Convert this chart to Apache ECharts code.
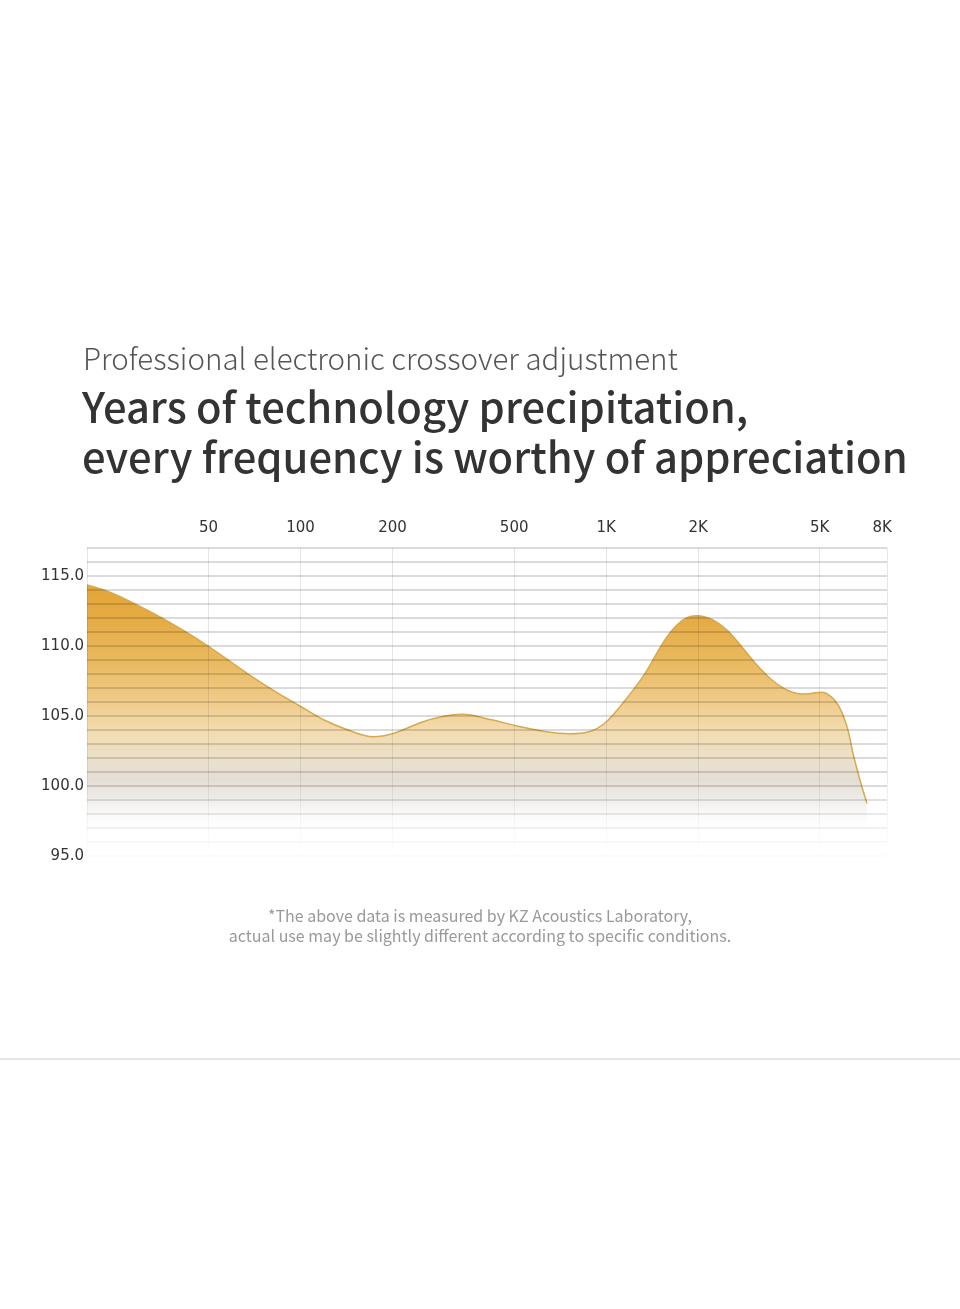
<!DOCTYPE html>
<html><head><meta charset="utf-8">
<script src="https://cdn.jsdelivr.net/npm/echarts@6/dist/echarts.min.js"></script>
<style>html,body{margin:0;padding:0;background:#fff;}#c{width:960px;height:1309px;}</style>
</head><body><div id="c"></div>
<script>
// ---- data ----
const freqHz = [20,24.3,31.4,40.3,49.8,66.8,85.6,98.8,118.4,142.9,172.6,200.6,251.5,292.4,337.4,416.6,510.7,630.5,761.3,884.8,991,1109.6,1319.6,1581,1783.6,1982,2219,2485,2782,3115,3488,3906,4373,5083,5692,6138,6422,6770,7136];
const levelDb = [114.36,113.76,112.57,111.26,110.0,108.05,106.54,105.75,104.75,104.0,103.52,103.75,104.59,104.96,105.12,104.75,104.29,103.89,103.73,103.89,104.5,105.66,107.81,110.64,111.86,112.16,111.89,111.14,109.93,108.64,107.57,106.86,106.57,106.69,105.91,104.24,102.34,100.43,98.76];
const tickFreqs = [50,100,200,500,1000,2000,5000,8000];
const tickLabels = ['50','100','200','500','1K','2K','5K','8K'];
const gridFreqs = [20,50,100,200,500,1000,2000,5000,8300];
const yTickValues = [95,100,105,110,115];
const freqRange = [20, 8300];
const dbRange = [95, 117];
const subtitle = 'Professional electronic crossover adjustment';
const headline = 'Years of technology precipitation,\nevery frequency is worthy of appreciation';
const footnote = '*The above data is measured by KZ Acoustics Laboratory,\nactual use may be slightly different according to specific conditions.';

// ---- helpers ----
const lg = v => Math.log10(v);
function over(hex, a) { // colour that shows as `hex` when painted with alpha a on white
  const n = parseInt(hex.slice(1), 16);
  const c = [(n >> 16) & 255, (n >> 8) & 255, n & 255].map(v => Math.max(0, Math.round((v - (1 - a) * 255) / a)));
  return 'rgba(' + c.join(',') + ',' + a + ')';
}
const A = 0.84;
const hLineColors = [];
for (let v = dbRange[0]; v <= dbRange[1]; v++) {
  const d = v - dbRange[0];
  const a = [0.015, 0.04, 0.07, 0.11, 0.155][d];
  hLineColors.push('rgba(0,0,0,' + (a === undefined ? 0.19 : a) + ')');
}

const chart = echarts.init(document.getElementById('c'), null, {renderer: 'canvas'});
const font = '"DejaVu Sans", sans-serif';
chart.setOption({
  backgroundColor: '#fff',
  animation: false,
  grid: {left: 87, right: 73, top: 548, bottom: 453, containLabel: false},
  xAxis: {
    type: 'value', position: 'top', z: 3,
    min: lg(freqRange[0]), max: lg(freqRange[1]),
    axisLine: {show: false},
    axisTick: {show: false, customValues: gridFreqs.map(lg)},
    axisLabel: {
      customValues: tickFreqs.map(lg), margin: 12,
      color: '#333', fontFamily: font, fontSize: 15,
      formatter: v => { for (let i = 0; i < tickFreqs.length; i++) if (Math.abs(lg(tickFreqs[i]) - v) < 1e-6) return tickLabels[i]; return ''; }
    },
    splitLine: {show: true, lineStyle: {width: 1, color: new echarts.graphic.LinearGradient(0, 0, 0, 1, [
      {offset: 0, color: 'rgba(0,0,0,0.1)'}, {offset: 0.72, color: 'rgba(0,0,0,0.085)'}, {offset: 1, color: 'rgba(0,0,0,0.0)'}])}}
  },
  yAxis: {
    type: 'value', min: dbRange[0], max: dbRange[1], interval: 1, z: 3,
    axisLine: {show: false}, axisTick: {show: false},
    axisLabel: {
      margin: 3, color: '#333', fontFamily: font, fontSize: 15,
      formatter: v => yTickValues.indexOf(v) >= 0 ? v.toFixed(1) : ''
    },
    splitLine: {show: true, lineStyle: {width: 1.5, color: hLineColors}}
  },
  series: [{
    type: 'line', z: -1,
    data: freqHz.map((f, i) => [lg(f), levelDb[i]]),
    smooth: 0.35,
    symbol: 'none',
    lineStyle: {color: '#d6aa4f', width: 1.5},
    areaStyle: {
      opacity: 1,
      color: new echarts.graphic.LinearGradient(0, 0, 0, 1, [
        {offset: 0, color: over('#e3a535', A)},
        {offset: 0.12, color: over('#e5ab44', A)},
        {offset: 0.28, color: over('#eab95e', A)},
        {offset: 0.42, color: over('#efca87', A)},
        {offset: 0.53, color: over('#f3dbad', A)},
        {offset: 0.64, color: over('#ece0ca', A)},
        {offset: 0.72, color: over('#e3ded6', A)},
        {offset: 0.79, color: 'rgba(234,232,228,0.8)'},
        {offset: 0.86, color: 'rgba(248,247,246,0.5)'},
        {offset: 0.92, color: 'rgba(255,255,255,0)'},
        {offset: 1, color: 'rgba(255,255,255,0)'}
      ])
    }
  }],
  graphic: [
    {type: 'text', silent: true, style: {text: subtitle, x: 83, y: 359, fill: '#555', fontFamily: '"Noto Sans CJK SC"', fontWeight: 300, fontSize: 29.5, align: 'left', verticalAlign: 'middle'}},
    {type: 'text', silent: true, style: {text: headline, x: 82, y: 432, fill: '#333', fontFamily: '"Noto Sans CJK SC"', fontWeight: 500, fontSize: 41.7, lineHeight: 50, align: 'left', verticalAlign: 'middle'}},
    {type: 'text', silent: true, style: {text: footnote, x: 480, y: 926, fill: '#999', fontFamily: '"Noto Sans CJK SC"', fontWeight: 400, fontSize: 16, lineHeight: 20, align: 'center', verticalAlign: 'middle'}},
    {type: 'rect', silent: true, shape: {x: 0, y: 1058, width: 960, height: 2}, style: {fill: '#e6e6e6'}}
  ]
});
</script></body></html>
